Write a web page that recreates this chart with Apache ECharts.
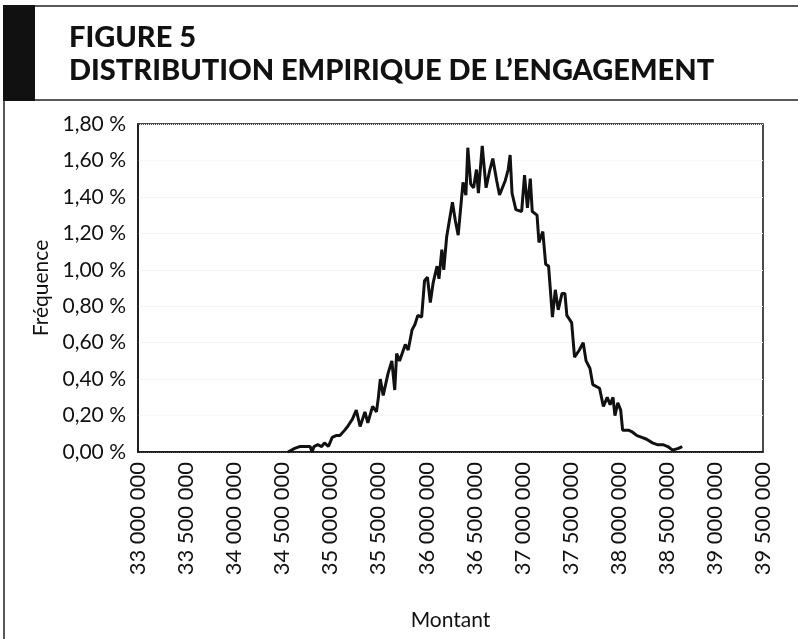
<!DOCTYPE html>
<html>
<head>
<meta charset="utf-8">
<script src="https://cdn.jsdelivr.net/npm/echarts@6/dist/echarts.min.js"></script>
<style>
  html, body { margin: 0; padding: 0; background: #fff; }
  #chart1 { width: 798px; height: 639px; }
</style>
</head>
<body>
<div id="chart1"></div>
<script>
(function(){

    // Montant (euros) and fréquence (%)
    var montant = [
        34560000, 34630000, 34680000, 34740000, 34790000, 34810000, 34830000, 34870000, 34910000, 34940000,
        34980000, 35020000, 35060000, 35100000, 35150000, 35180000, 35230000, 35270000, 35310000, 35360000,
        35390000, 35440000, 35480000, 35500000, 35520000, 35550000, 35600000, 35640000, 35670000, 35690000,
        35720000, 35780000, 35810000, 35850000, 35880000, 35910000, 35950000, 35980000, 36010000, 36040000,
        36070000, 36110000, 36130000, 36160000, 36180000, 36210000, 36270000, 36300000, 36330000, 36380000,
        36410000, 36430000, 36460000, 36490000, 36520000, 36540000, 36580000, 36620000, 36660000, 36690000,
        36730000, 36760000, 36820000, 36850000, 36870000, 36890000, 36930000, 36990000, 37020000, 37050000,
        37080000, 37100000, 37150000, 37170000, 37210000, 37240000, 37270000, 37310000, 37340000, 37370000,
        37410000, 37440000, 37460000, 37510000, 37540000, 37590000, 37630000, 37660000, 37700000, 37730000,
        37800000, 37840000, 37880000, 37910000, 37940000, 37960000, 37990000, 38020000, 38040000, 38100000,
        38140000, 38190000, 38240000, 38290000, 38350000, 38400000, 38460000, 38510000, 38560000, 38620000,
        38660000
    ];
    var frequence = [
        0.00, 0.02, 0.03, 0.03, 0.03, 0.00, 0.03, 0.04, 0.03, 0.05,
        0.03, 0.08, 0.09, 0.09, 0.12, 0.14, 0.18, 0.23, 0.14, 0.22,
        0.16, 0.25, 0.22, 0.30, 0.40, 0.31, 0.43, 0.50, 0.34, 0.54,
        0.50, 0.59, 0.56, 0.67, 0.70, 0.75, 0.74, 0.94, 0.96, 0.82,
        0.93, 1.02, 0.95, 1.11, 1.00, 1.18, 1.37, 1.27, 1.19, 1.48,
        1.41, 1.67, 1.47, 1.45, 1.55, 1.42, 1.68, 1.45, 1.55, 1.61,
        1.49, 1.41, 1.49, 1.55, 1.63, 1.42, 1.33, 1.32, 1.52, 1.34,
        1.50, 1.32, 1.30, 1.15, 1.21, 1.03, 1.02, 0.74, 0.89, 0.78,
        0.87, 0.87, 0.75, 0.71, 0.52, 0.56, 0.60, 0.50, 0.46, 0.37,
        0.35, 0.25, 0.30, 0.26, 0.30, 0.20, 0.27, 0.23, 0.12, 0.12,
        0.11, 0.09, 0.08, 0.07, 0.05, 0.04, 0.04, 0.03, 0.01, 0.02,
        0.03
    ];

    var xMin = 33000000, xMax = 39500000, xStep = 500000;
    var yMin = 0, yMax = 1.8, yStep = 0.2;

    var points = [];
    for (var i = 0; i < montant.length; i++) {
        points.push([montant[i], frequence[i]]);
    }

    var chart1 = echarts.init(document.getElementById('chart1'));
    var font = 'Lato, "Open Sans", sans-serif';

    var option = {
        backgroundColor: '#fff',
        animation: false,
        title: {
            text: 'FIGURE 5\nDISTRIBUTION EMPIRIQUE DE L\u2019ENGAGEMENT',
            left: 64,
            top: 16,
            textStyle: {
                fontFamily: font,
                fontWeight: 900,
                fontSize: 29,
                lineHeight: 33,
                color: '#111'
            }
        },
        graphic: [
            { type: 'rect', shape: { x: 3, y: 5, width: 32, height: 96 }, style: { fill: '#111' } },
            { type: 'line', shape: { x1: 35, y1: 6, x2: 798, y2: 6 }, style: { stroke: '#222', lineWidth: 1.5 } },
            { type: 'line', shape: { x1: 35, y1: 100, x2: 798, y2: 100 }, style: { stroke: '#222', lineWidth: 1.5 } },
            { type: 'line', shape: { x1: 4, y1: 100, x2: 4, y2: 639 }, style: { stroke: '#222', lineWidth: 1.5 } }
        ],
        grid: {
            left: 138,
            right: 35,
            top: 124,
            bottom: 187,
            show: true,
            borderColor: '#111',
            borderWidth: 1.5,
            containLabel: false
        },
        xAxis: {
            type: 'value',
            min: xMin,
            max: xMax,
            interval: xStep,
            name: 'Montant',
            nameLocation: 'middle',
            nameGap: 158,
            nameTextStyle: { fontFamily: font, fontSize: 21, color: '#111' },
            axisLine: { show: true, lineStyle: { color: '#111', width: 1.5 } },
            axisTick: { show: false },
            splitLine: { show: false },
            axisLabel: {
                rotate: 90,
                margin: 10,
                fontFamily: font,
                fontSize: 22,
                color: '#111',
                formatter: function (v) {
                    return String(Math.round(v)).replace(/\B(?=(\d{3})+(?!\d))/g, ' ');
                }
            }
        },
        yAxis: {
            type: 'value',
            min: yMin,
            max: yMax,
            interval: yStep,
            name: 'Fréquence',
            nameLocation: 'middle',
            nameGap: 86,
            nameTextStyle: { fontFamily: font, fontSize: 21, color: '#111' },
            axisLine: { show: true, lineStyle: { color: '#111', width: 1.5 } },
            axisTick: { show: false },
            splitLine: { show: true, lineStyle: { color: '#efefef', type: 'dotted', width: 1 } },
            axisLabel: {
                margin: 12,
                fontFamily: font,
                fontSize: 21,
                color: '#111',
                formatter: function (v) {
                    return v.toFixed(2).replace('.', ',') + ' %';
                }
            }
        },
        series: [
            {
                name: 'Fréquence',
                type: 'line',
                data: points,
                showSymbol: false,
                lineStyle: { color: '#111', width: 3 }
            }
        ]
    };

    chart1.setOption(option);
    window.onresize = chart1.resize;

})();
</script>
</body>
</html>
